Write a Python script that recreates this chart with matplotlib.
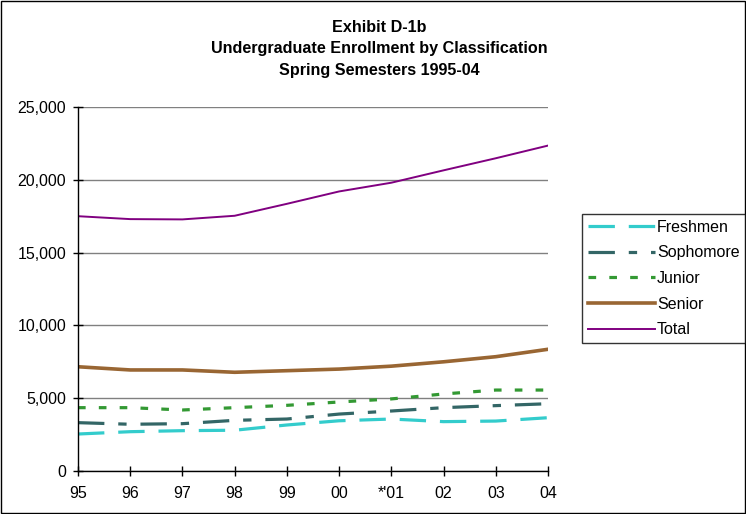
import matplotlib
matplotlib.use("Agg")
from matplotlib import pyplot as plt
from matplotlib.patches import Rectangle

plt.rcParams['font.family'] = ['Liberation Sans', 'DejaVu Sans']
plt.rcParams['lines.scale_dashes'] = False

years = ["95", "96", "97", "98", "99", "00", "*'01", "02", "03", "04"]

freshmen = [2540, 2700, 2770, 2800, 3160, 3450, 3570, 3390, 3430, 3660]
sophomore = [3320, 3210, 3250, 3480, 3570, 3910, 4120, 4350, 4490, 4620]
junior = [4350, 4350, 4190, 4350, 4510, 4740, 4950, 5290, 5560, 5560]
senior = [7160, 6940, 6940, 6780, 6890, 7000, 7200, 7500, 7850, 8360]
total = [17500, 17300, 17280, 17530, 18350, 19200, 19800, 20650, 21480, 22350]

title_lines = ["Exhibit D-1b",
               "Undergraduate Enrollment by Classification",
               "Spring Semesters 1995-04"]

fig = plt.figure(figsize=(7.46, 5.14), dpi=100)
ax = fig.add_axes([78/746, 1 - 471/514, 470/746, 364/514])

x = list(range(len(years)))

ax.plot(x, freshmen, color='#33CCCC', lw=2.3, dashes=(19, 10), label='Freshmen')
ax.plot(x, sophomore, color='#336666', lw=2.3, dashes=(19, 10, 6, 10), label='Sophomore')
ax.plot(x, junior, color='#339933', lw=2.3, dashes=(5.5, 9.5), label='Junior')
ax.plot(x, senior, color='#996633', lw=2.6, label='Senior')
ax.plot(x, total, color='#800080', lw=1.4, label='Total')

ax.set_xlim(0, len(years) - 1)
ax.set_ylim(0, 25000)
ax.set_xticks(x)
ax.set_xticklabels(years)
ax.set_yticks(range(0, 25001, 5000))
ax.set_yticklabels([f"{v:,}" for v in range(0, 25001, 5000)])
ax.tick_params(direction='inout', length=7, width=1, labelsize=11.5, color='black')
ax.tick_params(axis='x', pad=7)
ax.tick_params(axis='y', pad=5)
ax.grid(axis='y', color='#808080', lw=1)
ax.set_axisbelow(True)
for s in ['top', 'right']:
    ax.spines[s].set_visible(False)
for s in ['left', 'bottom']:
    ax.spines[s].set_color('black')
    ax.spines[s].set_linewidth(1)

# three title lines, centred over the plot
for yy, line in zip([28, 49, 71], title_lines):
    fig.text(379/746, 1 - yy/514, line, ha='center', va='center',
             fontsize=11.6, fontweight='bold')

leg = fig.legend(loc='upper left', bbox_to_anchor=(582/746, 1 - 214/514), fontsize=11.5,
                 frameon=True, fancybox=False, edgecolor='black', handlelength=4.2,
                 handletextpad=0.15, borderpad=0.35, labelspacing=0.67, borderaxespad=0)
leg.get_frame().set_linewidth(1)

fig.patches.append(Rectangle((0.001, 0.001), 0.997, 0.997, transform=fig.transFigure,
                             fill=False, edgecolor='black', lw=1))

plt.savefig('out.png', dpi=100)
